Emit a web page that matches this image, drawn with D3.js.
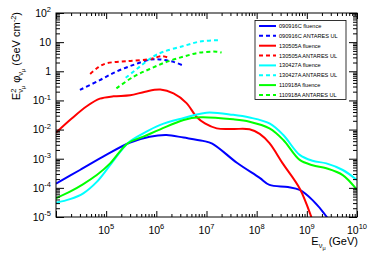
<!DOCTYPE html>
<html>
<head>
<meta charset="utf-8">
<script src="https://cdn.jsdelivr.net/npm/d3@7"></script>
<style>
  html, body { margin: 0; padding: 0; background: #fff; }
  svg { display: block; font-family: "Liberation Sans", Arial, sans-serif; }
</style>
</head>
<body>
<div id="chart"></div>
<script>
// ---------------- data (E in GeV, E^2 phi in GeV cm^-2) ----------------
const fluence090916C = [[1e4, 1.4e-4], [3e4, 4.1e-4], [1e5, 1.35e-3], [3e5, 3.6e-3],
  [7.4e5, 5.7e-3], [1.6e6, 6.5e-3], [3.5e6, 5.3e-3], [8.5e6, 4.1e-3], [1.3e7, 3.3e-3], [4.1e7, 7.1e-4],
  [1.15e8, 2.2e-4], [1.8e8, 1.26e-4], [4.2e8, 1.07e-4], [7.2e8, 8.5e-5], [1.3e9, 3.8e-5], [2.5e9, 1e-5], [3.2e9, 5e-6]];
const ul090916C = [[3e4, 0.23], [7.5e4, 0.5], [1.6e5, 0.98], [3.5e5, 1.66], [7.4e5, 2.5], [1e6, 2.6],
  [1.4e6, 2.45], [2.2e6, 2.1], [3.5e6, 1.55]];

const fluence130505A = [[1e4, 7.8e-3], [2e4, 2.3e-2], [4.1e4, 6.3e-2], [7.5e4, 0.115], [1.4e5, 0.138],
  [3e5, 0.15], [6e5, 0.2], [1.2e6, 0.235], [2.2e6, 0.174], [4e6, 0.081], [6.3e6, 0.0275],
  [9.3e6, 0.0162], [1.6e7, 0.011], [3.4e7, 0.0105], [7.2e7, 0.0102], [1.15e8, 0.0071], [1.8e8, 0.0034],
  [3.3e8, 6.9e-4], [7.2e8, 9.5e-5], [1.23e9, 1e-5], [1.4e9, 5e-6]];
const ul130505A = [[4.8e4, 0.81], [7e4, 1.38], [1e5, 1.86], [2.6e5, 2.24], [7.4e5, 2.6], [1.3e6, 3.3], [1.85e6, 2.8]];

const fluence130427A = [[1e4, 3.1e-5], [1.9e4, 4.1e-5], [3.5e4, 6.5e-5], [6.5e4, 1.6e-4], [1.2e5, 6e-4],
  [2.7e5, 3.4e-3], [5.5e5, 7.4e-3], [1.2e6, 0.0145], [3.4e6, 0.0245], [1e7, 0.038], [3.4e7, 0.032],
  [7.2e7, 0.026], [1.8e8, 0.0162], [3.4e8, 6.5e-3], [7.2e8, 1.35e-3], [1.3e9, 8.5e-4], [2.45e9, 6.9e-4],
  [5.2e9, 4.1e-4], [1e10, 1.86e-4]];
const ul130427A = [[2.45e5, 0.6], [4.7e5, 1.45], [8.7e5, 3.2], [1.4e6, 4.7], [3.5e6, 7.4], [7.4e6, 10.5],
  [1.6e7, 11.7], [1.9e7, 11.7]];

const fluence110918A = [[1e4, 4.4e-5], [1.9e4, 7.4e-5], [3.5e4, 1.35e-4], [6.5e4, 2.75e-4], [1.2e5, 6.9e-4],
  [2.7e5, 3.4e-3], [5.5e5, 5.7e-3], [1.2e6, 0.0102], [3.5e6, 0.0214], [7.4e6, 0.0263], [3.4e7, 0.0224],
  [7.2e7, 0.0186], [1.8e8, 0.011], [3.4e8, 4.4e-3], [7.2e8, 9.1e-4], [1.3e9, 6e-4], [2.45e9, 4.7e-4],
  [5.2e9, 2.75e-4], [1e10, 8.5e-5]];
const ul110918A = [[1.6e5, 0.26], [3.5e5, 0.65], [7.4e5, 1.2], [1.6e6, 2.1], [3.5e6, 3.2], [7.4e6, 4.4],
  [1.6e7, 4.7], [2e7, 4.4]];

const legendLabels = ["090916C fluence", "090916C ANTARES UL", "130505A fluence", "130505A ANTARES UL",
  "130427A fluence", "130427A ANTARES UL", "110918A fluence", "110918A ANTARES UL"];
const xLabelExps = [5, 6, 7, 8, 9, 10];
const yLabelExps = [-5, -4, -3, -2, -1, 0, 1, 2];

const series = [
  { data: fluence090916C, color: "#0000ff", dashed: false },
  { data: ul090916C, color: "#0000ff", dashed: true },
  { data: fluence130505A, color: "#ff0000", dashed: false },
  { data: ul130505A, color: "#ff0000", dashed: true },
  { data: fluence130427A, color: "#00ffff", dashed: false },
  { data: ul130427A, color: "#00ffff", dashed: true },
  { data: fluence110918A, color: "#00ff00", dashed: false },
  { data: ul110918A, color: "#00ff00", dashed: true }
];

// ---------------- layout ----------------
const W = 378, H = 256;
const pLeft = 56, pRight = 357, pTop = 13, pBottom = 217;

const svg = d3.select("#chart").append("svg")
  .attr("width", W).attr("height", H);

svg.append("rect").attr("width", W).attr("height", H).attr("fill", "#fff");

const x = d3.scaleLog().domain([1e4, 1e10]).range([pLeft, pRight]);
const y = d3.scaleLog().domain([1e-5, 1e2]).range([pBottom, pTop]);

svg.append("clipPath").attr("id", "clip")
  .append("rect").attr("x", pLeft).attr("y", pTop)
  .attr("width", pRight - pLeft).attr("height", pBottom - pTop);

// curves
const line = d3.line()
  .x(d => x(d[0]))
  .y(d => y(d[1]))
  .curve(d3.curveCatmullRom.alpha(0.5));

const curves = svg.append("g").attr("clip-path", "url(#clip)");
series.forEach(s => {
  curves.append("path")
    .attr("d", line(s.data))
    .attr("fill", "none")
    .attr("stroke", s.color)
    .attr("stroke-width", 2)
    .attr("stroke-dasharray", s.dashed ? "4,3" : null);
});

// ---------------- axes (ROOT style, ticks inward on all sides) ----------------
const isMajor = v => Math.abs(Math.log10(v) - Math.round(Math.log10(v))) < 1e-6;
const xTicks = x.ticks();
const yTicks = y.ticks();

function drawTicks(axisFn, scale, ticks, size, tr) {
  const g = svg.append("g").attr("transform", tr)
    .call(axisFn(scale).tickValues(ticks).tickSizeInner(size).tickSizeOuter(0).tickFormat(""));
  g.select(".domain").remove();
  g.selectAll("line").attr("stroke", "#000").attr("stroke-width", 1);
}

drawTicks(d3.axisBottom, x, xTicks.filter(v => !isMajor(v)), -3, `translate(0,${pBottom})`);
drawTicks(d3.axisBottom, x, xTicks.filter(isMajor), -6, `translate(0,${pBottom})`);
drawTicks(d3.axisTop, x, xTicks.filter(v => !isMajor(v)), -3, `translate(0,${pTop})`);
drawTicks(d3.axisTop, x, xTicks.filter(isMajor), -6, `translate(0,${pTop})`);
drawTicks(d3.axisLeft, y, yTicks.filter(v => !isMajor(v)), -4, `translate(${pLeft},0)`);
drawTicks(d3.axisLeft, y, yTicks.filter(isMajor), -8, `translate(${pLeft},0)`);
drawTicks(d3.axisRight, y, yTicks.filter(v => !isMajor(v)), -4, `translate(${pRight},0)`);
drawTicks(d3.axisRight, y, yTicks.filter(isMajor), -8, `translate(${pRight},0)`);

// frame
svg.append("rect")
  .attr("x", pLeft).attr("y", pTop)
  .attr("width", pRight - pLeft).attr("height", pBottom - pTop)
  .attr("fill", "none").attr("stroke", "#000").attr("stroke-width", 1);

// tick labels
function powLabel(px, py, exp, anchor) {
  const t = svg.append("text")
    .attr("x", px).attr("y", py)
    .attr("text-anchor", anchor)
    .attr("font-size", 10.5)
    .attr("fill", "#000");
  if (exp === 0) { t.text("1"); return; }
  if (exp === 1) { t.text("10"); return; }
  t.append("tspan").text("10");
  t.append("tspan").attr("font-size", 7.5).attr("dy", -4.5).text(String(exp));
}

xLabelExps.forEach(e => powLabel(x(Math.pow(10, e)), 233.5, e, "middle"));
yLabelExps.forEach(e => powLabel(51, y(Math.pow(10, e)) + 3.8, e, "end"));

// x axis title
const xt = svg.append("text")
  .attr("x", pRight + 1).attr("y", 245)
  .attr("text-anchor", "end").attr("font-size", 11);
xt.append("tspan").text("E");
xt.append("tspan").attr("font-size", 7.5).attr("dy", 3).text("ν");
xt.append("tspan").attr("font-size", 5.5).attr("dy", 2).text("μ");
xt.append("tspan").attr("dy", -5).text(" (GeV)");

// y axis title
const yt = svg.append("text")
  .attr("transform", `translate(20,12) rotate(-90)`)
  .attr("text-anchor", "end").attr("font-size", 11);
yt.append("tspan").text("E");
yt.append("tspan").attr("font-size", 7.5).attr("dy", -4.5).text("2");
yt.append("tspan").attr("font-size", 7.5).attr("dx", -4.2).attr("dy", 7.5).text("ν");
yt.append("tspan").attr("font-size", 5.5).attr("dy", 2).text("μ");
yt.append("tspan").attr("dy", -5).text(" φ");
yt.append("tspan").attr("font-size", 7.5).attr("dy", 3).text("ν");
yt.append("tspan").attr("font-size", 5.5).attr("dy", 2).text("μ");
yt.append("tspan").attr("dy", -5).text(" (GeV cm");
yt.append("tspan").attr("font-size", 7.5).attr("dy", -4.5).text("-2");
yt.append("tspan").attr("dy", 4.5).text(")");

// ---------------- legend ----------------
const lg = svg.append("g");
lg.append("rect")
  .attr("x", 255).attr("y", 20.5).attr("width", 91).attr("height", 79)
  .attr("fill", "#fff").attr("stroke", "#000").attr("stroke-width", 0.8);

legendLabels.forEach((label, i) => {
  const s = series[i];
  const cy = 26 + i * 9.85;
  lg.append("line")
    .attr("x1", 259).attr("x2", 276).attr("y1", cy).attr("y2", cy)
    .attr("stroke", s.color).attr("stroke-width", 2)
    .attr("stroke-dasharray", s.dashed ? "4,3" : null);
  lg.append("text")
    .attr("x", 279).attr("y", cy + 2)
    .attr("font-size", 5.6)
    .text(label);
});
</script>
</body>
</html>
